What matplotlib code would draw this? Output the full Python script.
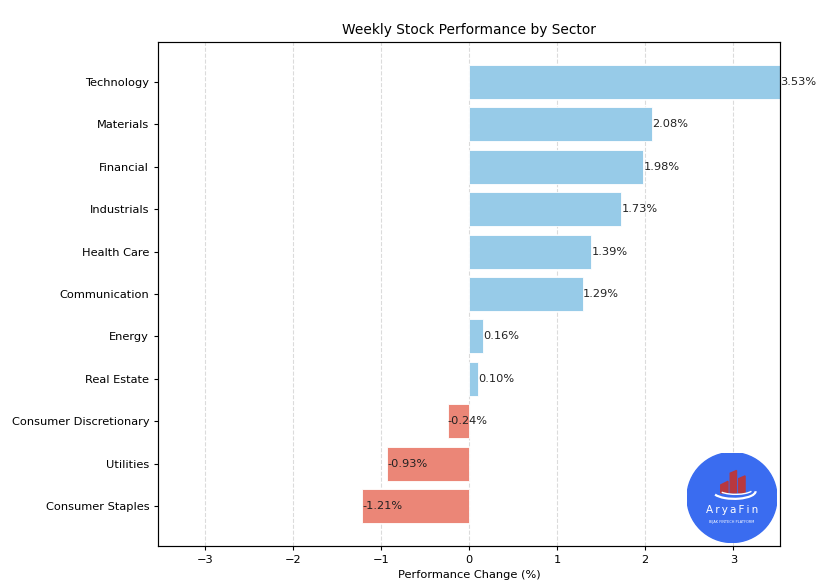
import numpy as np
import matplotlib
matplotlib.use("Agg")
from matplotlib import pyplot as plt
from matplotlib.patches import Circle, Polygon, Arc

sectors = ["Technology", "Materials", "Financial", "Industrials", "Health Care",
           "Communication", "Energy", "Real Estate", "Consumer Discretionary",
           "Utilities", "Consumer Staples"]
changes = [3.53, 2.08, 1.98, 1.73, 1.39, 1.29, 0.16, 0.10, -0.24, -0.93, -1.21]

pos_color = "#97cbe8"
neg_color = "#eb8677"

s = 0.822  # scale of the screenshot
plt.rcParams["font.size"] = 10 * s
plt.rcParams["xtick.major.size"] = 3.5 * s
plt.rcParams["ytick.major.size"] = 3.5 * s
plt.rcParams["axes.linewidth"] = 0.8 * s * 1.3

fig = plt.figure(figsize=(8.22, 5.88), dpi=100)
ax = fig.add_axes([158 / 822, 1 - 546 / 588, 622 / 822, 504 / 588])

# sort so the best sector sits on top
order = np.argsort(changes)
y_labels = [sectors[i] for i in order]
y_vals = [changes[i] for i in order]
colors = [pos_color if v >= 0 else neg_color for v in y_vals]

ax.barh(y_labels, y_vals, color=colors, edgecolor="white", linewidth=0.6)

for i, v in enumerate(y_vals):
    ax.text(v, i, "{:.2f}%".format(v), ha="left", va="center",
            fontsize=10 * s, color="#222222")

lim = max(abs(v) for v in y_vals)
ax.set_xlim(-lim, lim)
ax.set_title("Weekly Stock Performance by Sector", fontsize=12 * s)
ax.set_xlabel("Performance Change (%)")
ax.grid(axis="x", linestyle="--", alpha=0.7, color="#cccccc")
ax.set_axisbelow(True)

# logo in the bottom right corner
cx, cy, r = 732 / 822, 1 - 497.5 / 588, 45 / 822
la = fig.add_axes([cx - r, cy - r * 822 / 588, 2 * r, 2 * r * 822 / 588])
la.set_xlim(-1, 1)
la.set_ylim(-1, 1)
la.set_aspect("equal")
la.axis("off")
la.add_patch(Circle((0, 0), 1, color="#3a6cf0"))
red = "#b8383f"
la.add_patch(Polygon([(-0.25, 0.10), (-0.09, 0.10), (-0.09, 0.36), (-0.25, 0.28)], color=red))
la.add_patch(Polygon([(-0.04, 0.10), (0.10, 0.10), (0.10, 0.60), (-0.04, 0.54)], color=red))
la.add_patch(Polygon([(0.15, 0.10), (0.29, 0.10), (0.29, 0.48), (0.15, 0.42)], color=red))
la.add_patch(Arc((0.05, 0.14), 0.95, 0.34, theta1=190, theta2=360, color="white", lw=1.6))
la.add_patch(Arc((0.08, 0.20), 0.80, 0.26, theta1=195, theta2=350, color="white", lw=1.0))
la.text(0, -0.28, "A\u2009r\u2009y\u2009a\u2009F\u2009i\u2009n", color="white",
        ha="center", va="center", fontsize=7.5, family="DejaVu Sans")
la.text(0, -0.55, "BIJAK FINTECH PLATFORM", color="white", ha="center",
        va="center", fontsize=2.5)

fig.savefig("out.png", dpi=100)
